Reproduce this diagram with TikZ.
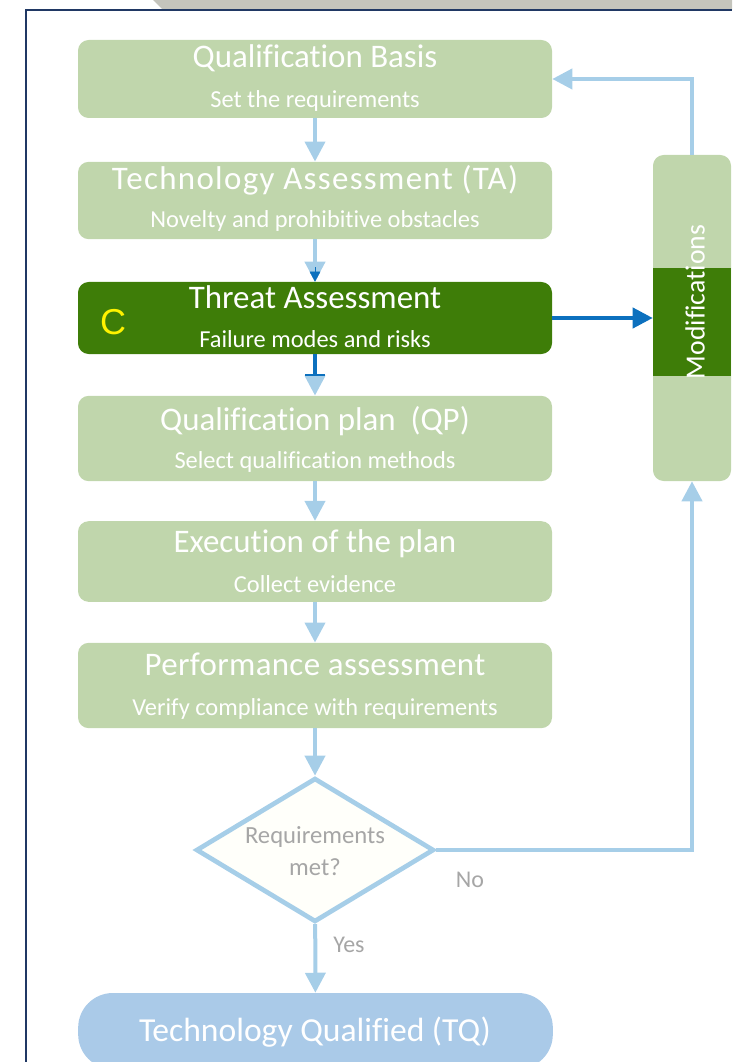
\documentclass[tikz,border=0pt]{standalone}
\usepackage{fontspec}
\setmainfont[Ligatures=NoCommon]{Carlito}
\newfontfamily\arialfont{Liberation Sans}
\usetikzlibrary{arrows.meta}
\usetikzlibrary{shapes.geometric}

\definecolor{stagegreen}{RGB}{192,214,172}
\definecolor{threatgreen}{RGB}{62,125,8}
\definecolor{flowblue}{RGB}{166,206,232}
\definecolor{darkblue}{RGB}{12,112,190}
\definecolor{tqblue}{RGB}{170,202,232}
\definecolor{framenavy}{RGB}{32,56,100}
\definecolor{tabgray}{RGB}{196,196,188}
\definecolor{labelgray}{RGB}{166,166,166}

\tikzset{
  stage/.style={fill=stagegreen, rounded corners=8pt, minimum width=355.5pt, inner sep=0pt},
  stagetitle/.style={text=white, anchor=base, inner sep=0pt, font=\fontsize{24.7}{28}\selectfont},
  stagesub/.style={text=white, anchor=base, inner sep=0pt, font=\fontsize{18.3}{22}\selectfont},
  graytext/.style={text=labelgray, anchor=base, inner sep=0pt, font=\fontsize{18}{22}\selectfont},
  flow/.style={draw=flowblue, line width=3pt, -{Triangle[width=15pt,length=15pt]}}
}

\begin{document}
\begin{tikzpicture}[x=0.75pt, y=-0.75pt]
    \useasboundingbox (0,0) rectangle (732,1062);
    \clip (0,0) rectangle (732,1062);

    % Tab and frame
    \fill[tabgray] (153,0) -- (163,10) -- (732,10) -- (732,0) -- cycle;
    \draw[framenavy, line width=1.5pt] (26,1062) -- (26,10) -- (732,10);

    % The stages
    \node[stage, minimum height=58.5pt] (qb) at (315,79) {};
    \node[stage, minimum height=58pt] (ta) at (315,200.5) {};
    \node[stage, fill=threatgreen, minimum height=54pt] (threat) at (315,318) {};
    \node[stage, minimum height=64pt] (qp) at (315,438.5) {};
    \node[stage, minimum height=60.5pt] (exec) at (315,561.5) {};
    \node[stage, minimum height=64pt] (perf) at (315,685.5) {};

    % Titles and subtitles
    \node[stagetitle] (qbt) at (315,68) {Qualification Basis};
    \node[stagesub] (qbs) at (315,108) {Set the requirements};
    \node[stagetitle, font=\fontsize{24.7}{28}\selectfont\addfontfeature{LetterSpace=4}] (tat) at (315,190) {Technology Assessment (TA)};
    \node[stagesub] (tas) at (315,228) {Novelty and prohibitive obstacles};
    \node[stagetitle] (threatt) at (315,308) {Threat Assessment};
    \node[stagesub] (threats) at (315,347) {Failure modes and risks};
    \node[stagetitle] (qpt) at (315,430) {Qualification plan\ \ (QP)};
    \node[stagesub] (qps) at (315,468) {Select qualification methods};
    \node[stagetitle] (exect) at (315,552) {Execution of the plan};
    \node[stagesub] (execs) at (315,592) {Collect evidence};
    \node[stagetitle, font=\fontsize{24.7}{28}\selectfont\addfontfeature{LetterSpace=1}] (perft) at (315,675) {Performance assessment};
    \node[stagesub] (perfs) at (315,715) {Verify compliance with requirements};

    % Highlight mark
    \node[text=yellow, inner sep=0pt, font=\arialfont\fontsize{27}{30}\selectfont] (mark) at (113,322) {C};

    % Modifications column
    \node[stage, minimum width=58.5pt, minimum height=244.5pt] (mod) at (692,318) {};
    \fill[threatgreen] (653,268) rectangle (731,376);
    \node[text=white, rotate=90, inner sep=0pt, font=\fontsize{20.8}{24}\selectfont] (modt) at (695,302) {Modifications};

    % Decision and end
    \node[diamond, draw=flowblue, line width=3.5pt, fill=white!98!yellow, inner sep=0pt,
          minimum width=178.5pt, minimum height=108pt] (req) at (315,850) {};
    \node[graytext, font=\fontsize{18.5}{22}\selectfont] (reqa) at (315,843) {Requirements};
    \node[graytext, font=\fontsize{18.5}{22}\selectfont] (reqb) at (315,875) {met?};
    \node[fill=tqblue, rounded corners=26pt, minimum width=356pt, minimum height=57pt, inner sep=0pt] (tq) at (315.5,1031) {};
    \node[stagetitle, font=\fontsize{25.2}{28}\selectfont] (tqt) at (315,1041) {Technology Qualified (TQ)};

    % Flow arrows
    \draw[flow] (qb) -- (ta);
    \draw[flow] (ta) -- (threat);
    \draw[darkblue, line width=0.2pt, shorten <=21pt, -{Triangle[width=8pt,length=7.5pt]}] (ta) -- (threat);
    \draw[flow] (threat) -- (qp);
    \draw[darkblue, line width=3pt, shorten >=15pt, -{Bar[width=15pt,line width=1.2pt]}] (threat) -- (qp);
    \draw[flow] (qp) -- (exec);
    \draw[flow] (exec) -- (perf);
    \draw[flow] (perf) -- (req);
    \draw[flow] (req) -- (tq) node[graytext, pos=0.3, right=12pt] (yes) {Yes};
    \draw[darkblue, line width=3pt, -{Triangle[width=15pt,length=15pt]}] (threat.east) -- (mod.west);

    % Loop back
    \draw[flow] (req.east) -| (mod.south);
    \draw[flow] (mod.north) |- (qb.east);
    \node[graytext] (no) at (470,887) {No};
\end{tikzpicture}
\end{document}
